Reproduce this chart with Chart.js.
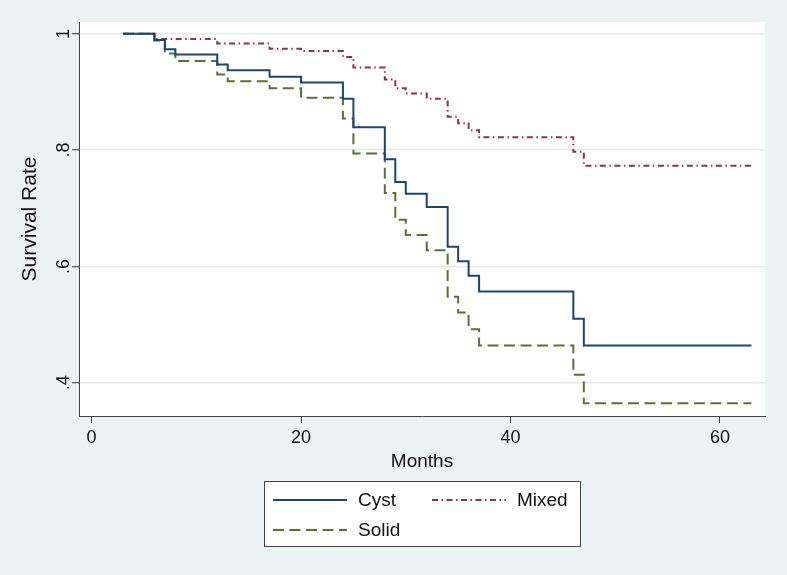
<!DOCTYPE html>
<html>
<head>
<meta charset="utf-8">
<script src="https://cdn.jsdelivr.net/npm/chart.js@4.4.1/dist/chart.umd.min.js"></script>
<style>
  html, body { margin: 0; padding: 0; background: #eaf2f3; }
  canvas { display: block; }
</style>
</head>
<body>
<canvas id="kmChart" width="787" height="575"></canvas>
<script>
// Kaplan-Meier estimates (months, survival rate)
const seriesNames = ['Cyst', 'Mixed', 'Solid'];

const cystMonths = [3, 6, 7, 8, 12, 13, 17, 20, 24, 25, 28, 29, 30, 32, 34, 35, 36, 37, 46, 47, 63];
const cystSurv = [1, .989, .973, .964, .947, .937, .926, .916, .888, .839, .784, .745, .725, .702, .634, .609, .584, .557, .510, .464, .464];

const mixedMonths = [3, 6, 12, 17, 20, 24, 25, 28, 29, 30, 32, 34, 35, 36, 37, 46, 47, 63];
const mixedSurv = [1, .991, .983, .974, .970, .960, .942, .921, .906, .897, .888, .857, .846, .834, .822, .797, .773, .773];

const solidMonths = [3, 6, 7, 8, 12, 13, 17, 20, 24, 25, 28, 29, 30, 32, 34, 35, 36, 37, 46, 47, 63];
const solidSurv = [1, .988, .966, .953, .930, .918, .906, .890, .854, .794, .726, .680, .654, .628, .548, .521, .492, .464, .414, .365, .365];

const xTicks = [0, 20, 40, 60];
const yTicks = [.4, .6, .8, 1];
const yTickLabels = ['.4', '.6', '.8', '1'];

const FONT = 'Liberation Sans, Arial, sans-serif';

function toPoints(xs, ys) {
    return xs.map((x, i) => ({ x: x, y: ys[i] }));
}

// fond gris-bleu + zone de tracé blanche
const backgroundPlugin = {
    id: 'background',
    beforeDraw(chart) {
        const ctx = chart.ctx;
        const a = chart.chartArea;
        ctx.save();
        ctx.fillStyle = '#eaf2f3';
        ctx.fillRect(0, 0, chart.width, chart.height);
        ctx.fillStyle = '#ffffff';
        ctx.fillRect(a.left, a.top, a.right - a.left, a.bottom - a.top);
        ctx.restore();
    }
};

// y tick labels are rotated like in Stata
const yLabelsPlugin = {
    id: 'yLabels',
    afterDraw(chart) {
        const ctx = chart.ctx;
        const y = chart.scales.y;
        ctx.save();
        ctx.fillStyle = '#111';
        ctx.font = '18px ' + FONT;
        ctx.textAlign = 'center';
        ctx.textBaseline = 'middle';
        yTicks.forEach((v, i) => {
            ctx.save();
            ctx.translate(64, y.getPixelForValue(v));
            ctx.rotate(-Math.PI / 2);
            ctx.fillText(yTickLabels[i], 0, 0);
            ctx.restore();
        });
        ctx.restore();
    }
};

// boxed legend below the plot (2 columns)
const boxLegendPlugin = {
    id: 'boxLegend',
    afterDraw(chart) {
        const ctx = chart.ctx;
        const slots = [
            { x: 273, y: 500 },
            { x: 432, y: 500 },
            { x: 273, y: 530 }
        ];
        ctx.save();
        ctx.fillStyle = '#ffffff';
        ctx.fillRect(264.5, 481.5, 316, 65);
        ctx.strokeStyle = '#444';
        ctx.lineWidth = 1;
        ctx.strokeRect(264.5, 481.5, 316, 65);

        chart.data.datasets.forEach((ds, i) => {
            const s = slots[i];
            ctx.beginPath();
            ctx.strokeStyle = ds.borderColor;
            ctx.lineWidth = ds.borderWidth;
            ctx.setLineDash(ds.borderDash || []);
            ctx.moveTo(s.x, s.y);
            ctx.lineTo(s.x + 74, s.y);
            ctx.stroke();
            ctx.setLineDash([]);
            ctx.fillStyle = '#111';
            ctx.font = '19px ' + FONT;
            ctx.textAlign = 'left';
            ctx.textBaseline = 'middle';
            ctx.fillText(ds.label, s.x + 85, s.y + 1);
        });
        ctx.restore();
    }
};

const ctx = document.getElementById('kmChart').getContext('2d');

new Chart(ctx, {
    type: 'line',
    data: {
        datasets: [{
            label: seriesNames[0],
            data: toPoints(cystMonths, cystSurv),
            borderColor: '#1a476f',
            borderWidth: 2,
            stepped: true,
            pointRadius: 0,
            order: 1
        }, {
            label: seriesNames[1],
            data: toPoints(mixedMonths, mixedSurv),
            borderColor: '#90353b',
            borderWidth: 2,
            borderDash: [6, 3.5, 1.5, 3.5],
            stepped: true,
            pointRadius: 0,
            order: 3
        }, {
            label: seriesNames[2],
            data: toPoints(solidMonths, solidSurv),
            borderColor: '#55752f',
            borderWidth: 2,
            borderDash: [11, 5.5],
            stepped: true,
            pointRadius: 0,
            order: 2
        }]
    },
    options: {
        responsive: false,
        animation: false,
        layout: {
            padding: { top: 22, right: 22, left: 0, bottom: 0 }
        },
        plugins: {
            legend: { display: false },
            tooltip: { enabled: false }
        },
        scales: {
            x: {
                type: 'linear',
                min: -1.2,
                max: 64.3,
                afterBuildTicks: (scale) => {
                    scale.ticks = xTicks.map(v => ({ value: v }));
                },
                afterFit: (scale) => {
                    scale.height = 159;
                },
                grid: {
                    drawOnChartArea: false,
                    drawTicks: true,
                    tickLength: 7,
                    tickColor: '#333',
                    tickWidth: 1
                },
                border: { display: true, color: '#444', width: 1 },
                ticks: {
                    padding: 4,
                    color: '#111',
                    maxRotation: 0,
                    font: { family: FONT, size: 18 }
                },
                title: {
                    display: true,
                    text: 'Months',
                    color: '#111',
                    font: { family: FONT, size: 19 },
                    padding: { top: 0, bottom: 102 }
                }
            },
            y: {
                type: 'linear',
                min: .343,
                max: 1.02,
                afterBuildTicks: (scale) => {
                    scale.ticks = yTicks.map(v => ({ value: v }));
                },
                afterFit: (scale) => {
                    scale.width = 79;
                },
                grid: {
                    color: '#e3ebee',
                    lineWidth: 1.5,
                    drawTicks: true,
                    tickLength: 7,
                    tickColor: '#333',
                    tickWidth: 1
                },
                border: { display: true, color: '#444', width: 1 },
                ticks: { display: false },
                title: {
                    display: true,
                    text: 'Survival Rate',
                    color: '#111',
                    font: { family: FONT, size: 21 },
                    padding: { top: 18, bottom: 0 }
                }
            }
        }
    },
    plugins: [backgroundPlugin, yLabelsPlugin, boxLegendPlugin]
});
</script>
</body>
</html>
